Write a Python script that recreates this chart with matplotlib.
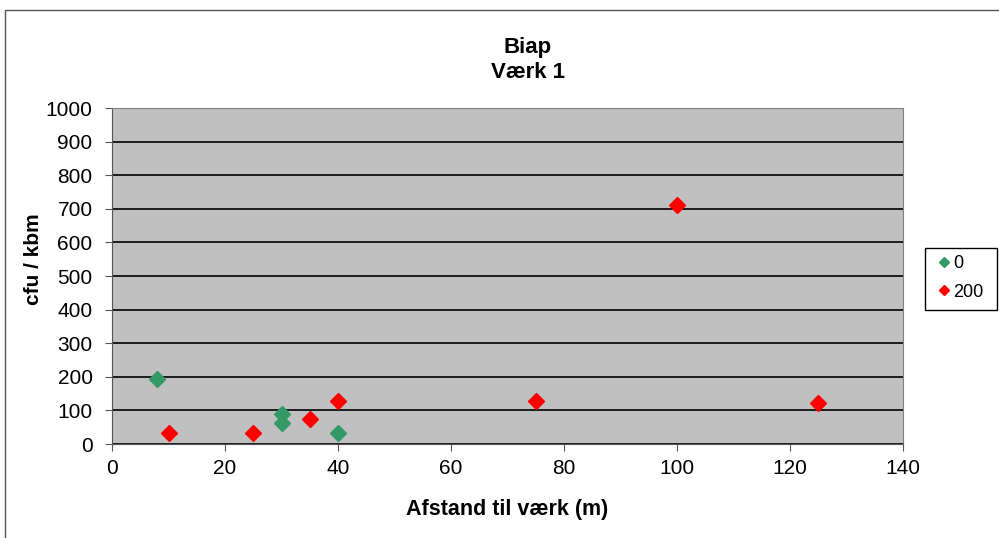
import matplotlib.pyplot as plt
from matplotlib.patches import Rectangle

plt.rcParams['font.family'] = ['Liberation Sans', 'DejaVu Sans']

# data
x_0 = [8, 30, 30, 40]
y_0 = [193, 90, 63, 32]
x_200 = [10, 25, 35, 40, 75, 100, 125]
y_200 = [33, 33, 73, 128, 128, 712, 122]

fig = plt.figure(figsize=(9.99, 5.38), dpi=100)
W, H = 999, 538

# outer chart border
fig.patches.append(Rectangle((5 / W, -0.01), 1.0, 1 - 10 / H + 0.01,
                             transform=fig.transFigure, fill=False,
                             edgecolor='#555555', linewidth=1))

ax = fig.add_axes([112 / W, (H - 444) / H, (903 - 112) / W, (444 - 108) / H])
ax.set_facecolor('#C0C0C0')

ax.plot(x_0, y_0, linestyle='none', marker='D', markersize=8,
        color='#339966', label='0', zorder=3)
ax.plot(x_200, y_200, linestyle='none', marker='D', markersize=8,
        color='#FF0000', label='200', zorder=3)

ax.set_xlim(0, 140)
ax.set_ylim(0, 1000)
ax.set_xticks(range(0, 141, 20))
ax.set_yticks(range(0, 1001, 100))
ax.yaxis.grid(True, color='black', linewidth=1.2)
ax.set_axisbelow(True)
ax.tick_params(labelsize=15, direction='out', length=5, color='#555555')
ax.tick_params(axis='y', pad=9)
ax.tick_params(axis='x', pad=6)

for side in ['top', 'right']:
    ax.spines[side].set_color('#808080')
for side in ['left', 'bottom']:
    ax.spines[side].set_color('#555555')

ax.set_xlabel('Afstand til værk (m)', fontsize=15.5, fontweight='bold')
ax.xaxis.set_label_coords(0.5, -0.165)
ax.set_ylabel('cfu / kbm', fontsize=15, fontweight='bold')
ax.yaxis.set_label_coords(-0.087, 0.55)

fig.text(528 / W, 1 - 47 / H, 'Biap', ha='center', va='center',
         fontsize=16, fontweight='bold')
fig.text(528 / W, 1 - 73 / H, 'Værk 1', ha='center', va='center',
         fontsize=16, fontweight='bold')

# legend box drawn separately, legend itself frameless inside it
fig.patches.append(Rectangle((925 / W, (H - 310) / H), 72 / W, 62 / H,
                             transform=fig.transFigure, fill=False,
                             edgecolor='black', linewidth=1))
leg = ax.legend(loc='upper left', bbox_to_anchor=(940 / W, (H - 255) / H),
                bbox_transform=fig.transFigure, fontsize=13, frameon=False,
                markerscale=0.6, handlelength=0.45, handletextpad=0.28,
                borderpad=0, borderaxespad=0, labelspacing=0.65,
                handleheight=0.7)

fig.savefig('out.png', dpi=100)
